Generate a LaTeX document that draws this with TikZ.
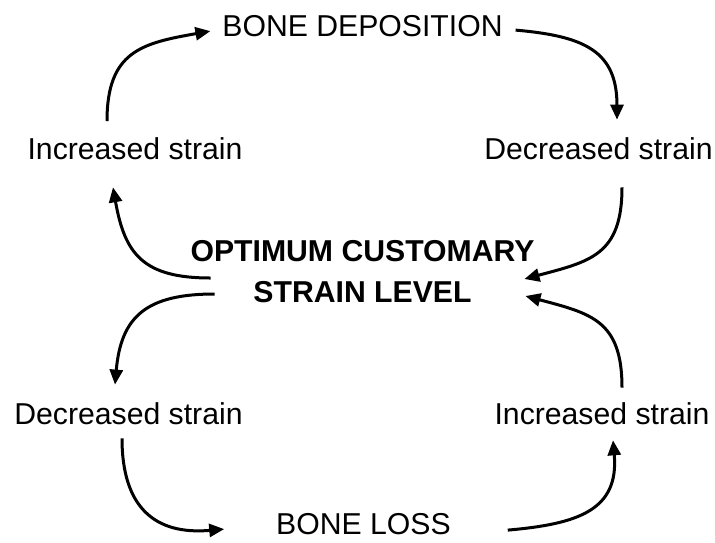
\documentclass[tikz,border=0pt]{standalone}
\usepackage{fontspec}
\setmainfont{Liberation Sans}
\usetikzlibrary{arrows.meta}
\begin{document}
\begin{tikzpicture}[x=1pt,y=-1pt,
  lbl/.style={inner sep=0pt,outer sep=0pt,anchor=base,font=\fontsize{30.2}{41}\selectfont},
  ttl/.style={inner sep=0pt,outer sep=0pt,anchor=center,align=center,font=\fontsize{30.2}{41}\selectfont\bfseries},
  cyc/.style={line width=3pt,-{Triangle[length=15pt,width=13pt]},looseness=1.3}]
\useasboundingbox[fill=white] (0,0) rectangle (715,542);
\node[lbl] (dep) at (362.5,36) {BONE DEPOSITION};
\node[lbl] (incL) at (135,159) {Increased strain};
\node[lbl] (decR) at (598.5,159) {Decreased strain};
\node[ttl] (opt) at (362.5,272) {OPTIMUM CUSTOMARY\\STRAIN LEVEL};
\node[lbl] (decL) at (128.5,424) {Decreased strain};
\node[lbl] (incR) at (602,424) {Increased strain};
\node[lbl] (loss) at (363.5,534) {BONE LOSS};
% upper loop
\draw[cyc] ([shift={(-28,-16)}]incL.north) to[out=90,in=190] ([shift={(-12,5.5)}]dep.west);
\draw[cyc] ([shift={(13,4.5)}]dep.east) to[out=-5,in=90] ([shift={(18.5,-17.5)}]decR.north);
\draw[cyc] ([shift={(23.5,28)}]decR.south) to[out=-90,in=15] ([shift={(-10,7)}]opt.east);
\draw[cyc] ([shift={(20,6)}]opt.west) to[out=180,in=-80] ([shift={(-22,28)}]incL.south);
% lower loop
\draw[cyc] ([shift={(24,22)}]opt.west) to[out=180,in=85] ([shift={(-13.5,-17.5)}]decL.north);
\draw[cyc] ([shift={(-6.5,14)}]decL.south) to[out=-90,in=185] ([shift={(-52,5.5)}]loss.west);
\draw[cyc] ([shift={(57,6.5)}]loss.east) to[out=5,in=-85] ([shift={(11,16)}]incR.south);
\draw[cyc] ([shift={(20,-14.5)}]incR.north) to[out=90,in=-15] ([shift={(-9,24)}]opt.east);
\end{tikzpicture}
\end{document}
